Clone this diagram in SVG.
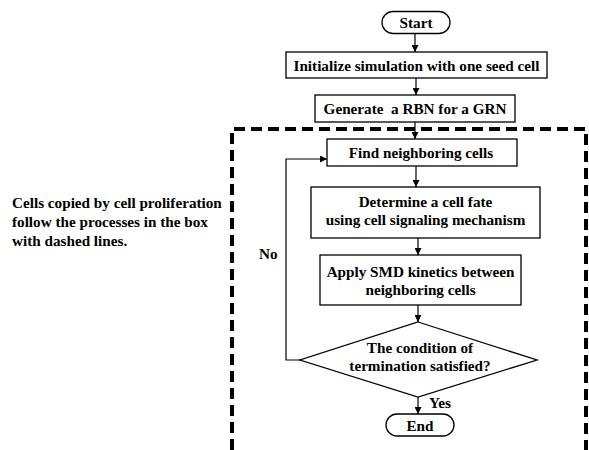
<svg xmlns="http://www.w3.org/2000/svg" width="589" height="450" viewBox="0 0 589 450">
<style>
  .box { fill: #fff; stroke: #000; stroke-width: 1.3; }
  .t { font-family: "Liberation Serif", "Times New Roman", serif; font-weight: bold; font-size: 15.2px; fill: #000; text-anchor: middle; }
  .tl { font-family: "Liberation Serif", "Times New Roman", serif; font-weight: bold; font-size: 15.2px; fill: #000; }
  .c { fill: none; stroke: #000; stroke-width: 1.2; }
  .dash { fill: none; stroke: #000; stroke-width: 4; stroke-dasharray: 11 6; }
</style>
<defs>
  <marker id="arr" viewBox="0 0 10 10" refX="10" refY="5" markerWidth="7" markerHeight="7" markerUnits="userSpaceOnUse" orient="auto">
    <path d="M0,0 L10,5 L0,10 z" fill="#000"/>
  </marker>
</defs>
<rect width="589" height="450" fill="#fff"/>
<path class="dash" d="M232,450 L232,129 L586,129 L586,450"/>
<g id="connectors">
  <line class="c" x1="415" y1="33" x2="415" y2="52" marker-end="url(#arr)"/>
  <line class="c" x1="416" y1="78" x2="416" y2="95" marker-end="url(#arr)"/>
  <line class="c" x1="415" y1="122" x2="415" y2="139" marker-end="url(#arr)"/>
  <line class="c" x1="416" y1="166" x2="416" y2="187" marker-end="url(#arr)"/>
  <line class="c" x1="418" y1="238" x2="418" y2="255" marker-end="url(#arr)"/>
  <line class="c" x1="418" y1="305" x2="418" y2="322" marker-end="url(#arr)"/>
  <line class="c" x1="418" y1="397" x2="418" y2="414" marker-end="url(#arr)"/>
  <polyline class="c" points="300,360 286,360 286,159 327,159" marker-end="url(#arr)"/>
  <text class="tl" x="259" y="259">No</text>
  <text class="tl" x="429" y="408">Yes</text>
</g>
<g id="start">
  <rect class="box" x="382" y="11.5" width="68" height="22" rx="11" ry="11"/>
  <text class="t" x="416" y="28">Start</text>
</g>
<g id="init">
  <rect class="box" x="286" y="52" width="261" height="26"/>
  <text class="t" x="416.5" y="70.5">Initialize simulation with one seed cell</text>
</g>
<g id="generate">
  <rect class="box" x="315" y="95" width="200" height="27"/>
  <text class="t" x="415" y="114" xml:space="preserve">Generate  a RBN for a GRN</text>
</g>
<g id="find">
  <rect class="box" x="327" y="139" width="190" height="27"/>
  <text class="t" x="421" y="157.5">Find neighboring cells</text>
</g>
<g id="determine">
  <rect class="box" x="311" y="187" width="229" height="51"/>
  <text class="t" x="425.5" y="207">Determine a cell fate</text>
  <text class="t" x="425.5" y="225">using cell signaling mechanism</text>
</g>
<g id="apply">
  <rect class="box" x="320" y="255" width="201" height="50"/>
  <text class="t" x="420.5" y="277">Apply SMD kinetics between</text>
  <text class="t" x="420.5" y="295">neighboring cells</text>
</g>
<g id="decision">
  <polygon class="box" points="418,322 537,360 418,397 300,360"/>
  <text class="t" x="420" y="353">The condition of</text>
  <text class="t" x="420" y="371">termination satisfied?</text>
</g>
<g id="end">
  <rect class="box" x="386" y="414" width="68" height="22" rx="11" ry="11"/>
  <text class="t" x="420" y="430.5">End</text>
</g>
<g id="note">
  <text class="tl" x="12" y="208">Cells copied by cell proliferation</text>
  <text class="tl" x="12" y="227">follow the processes in the box</text>
  <text class="tl" x="12" y="246">with dashed lines.</text>
</g>
</svg>
